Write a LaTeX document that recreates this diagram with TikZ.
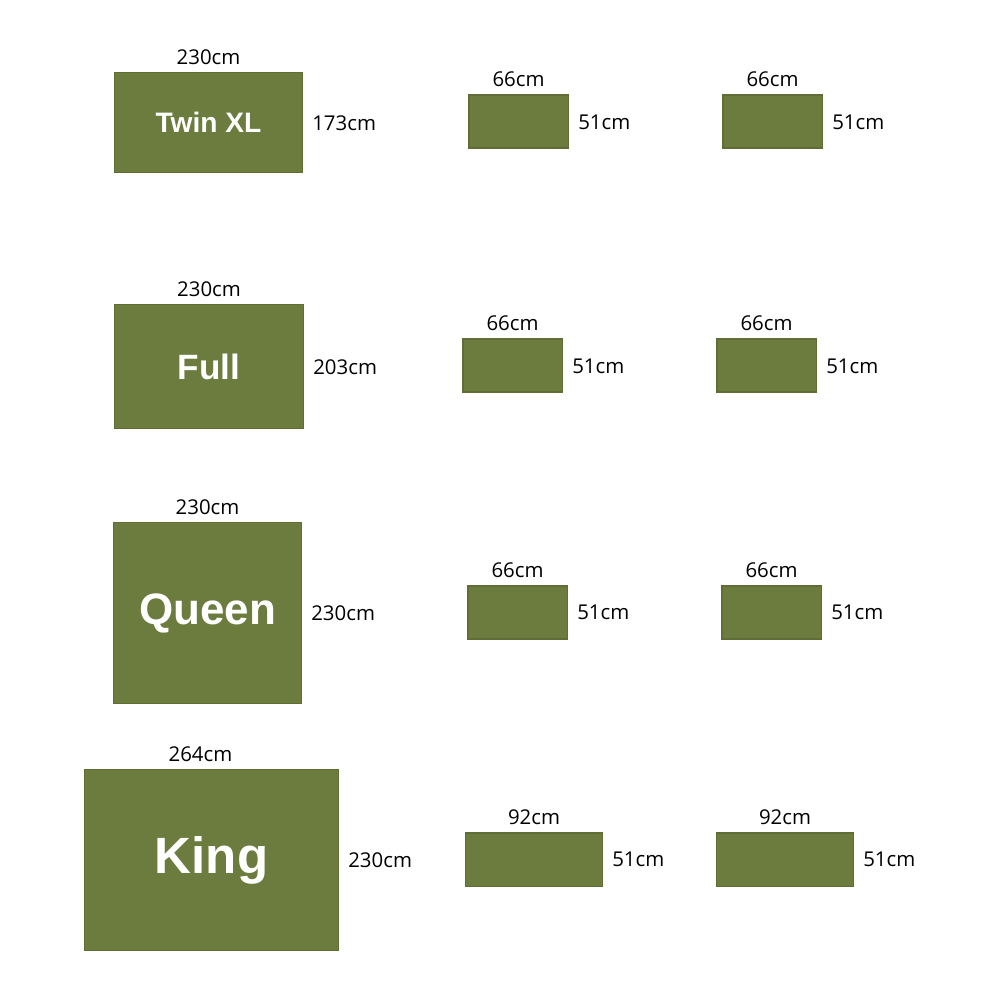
\documentclass[tikz,border=0pt]{standalone}
\usepackage{fontspec}
\setmainfont{Open Sans}
\newfontfamily\sizefont{Liberation Sans}
\usetikzlibrary{
  positioning,
}
\definecolor{rugGreen}{RGB}{108,124,62}
\definecolor{rugEdge}{RGB}{96,110,54}
\tikzset{
  rug/.style={draw=rugEdge, line width=0.3pt, fill=rugGreen, text=white, inner sep=0pt},
  dim/.style={inner sep=0pt, font=\fontsize{5.8}{7}\selectfont},
}

\begin{document}
\begin{tikzpicture}[x=0.01cm, y=-0.01cm]
      \fill [white] (0,0) rectangle (1000,1000);
      % Twin XL
      \node [rug, minimum width=1.87cm, minimum height=0.99cm, font=\sizefont\bfseries\fontsize{8}{9}\selectfont] (twin) at (208.5,122.5) {Twin XL};
      \node [rug, minimum width=0.99cm, minimum height=0.53cm] (twinA) at (518.5,121.5) {};
      \node [rug, minimum width=0.99cm, minimum height=0.53cm] (twinB) at (772.5,121.5) {};
      \node [dim, above=0.7mm of twin] {230cm};
      \node [dim, right=0.9mm of twin, yshift=-0.1mm] {173cm};
      \node [dim, above=0.7mm of twinA] {66cm};
      \node [dim, right=0.9mm of twinA, yshift=-0.1mm] {51cm};
      \node [dim, above=0.7mm of twinB] {66cm};
      \node [dim, right=0.9mm of twinB, yshift=-0.1mm] {51cm};
      % Full
      \node [rug, minimum width=1.88cm, minimum height=1.23cm, font=\sizefont\bfseries\fontsize{10}{12}\selectfont] (full) at (209,366.5) {Full};
      \node [rug, minimum width=0.99cm, minimum height=0.53cm] (fullA) at (512.5,365.5) {};
      \node [rug, minimum width=0.99cm, minimum height=0.53cm] (fullB) at (766.5,365.5) {};
      \node [dim, above=0.7mm of full] {230cm};
      \node [dim, right=0.9mm of full, yshift=-0.1mm] {203cm};
      \node [dim, above=0.7mm of fullA] {66cm};
      \node [dim, right=0.9mm of fullA, yshift=-0.1mm] {51cm};
      \node [dim, above=0.7mm of fullB] {66cm};
      \node [dim, right=0.9mm of fullB, yshift=-0.1mm] {51cm};
      % Queen
      \node [rug, minimum width=1.87cm, minimum height=1.80cm, font=\sizefont\bfseries\fontsize{12.5}{14}\selectfont] (queen) at (207.5,613) {Queen};
      \node [rug, minimum width=0.99cm, minimum height=0.53cm] (queenA) at (517.5,612.5) {};
      \node [rug, minimum width=0.99cm, minimum height=0.53cm] (queenB) at (771.5,612.5) {};
      \node [dim, above=0.7mm of queen] {230cm};
      \node [dim, right=0.9mm of queen] {230cm};
      \node [dim, above=0.7mm of queenA] {66cm};
      \node [dim, right=0.9mm of queenA] {51cm};
      \node [dim, above=0.7mm of queenB] {66cm};
      \node [dim, right=0.9mm of queenB] {51cm};
      % King
      \node [rug, minimum width=2.53cm, minimum height=1.80cm, font=\sizefont\bfseries\fontsize{14.5}{17}\selectfont] (king) at (211.5,860) {King};
      \node [rug, minimum width=1.36cm, minimum height=0.53cm] (kingA) at (534,859.5) {};
      \node [rug, minimum width=1.36cm, minimum height=0.53cm] (kingB) at (785,859.5) {};
      \node [dim, above=0.7mm of king, xshift=-1.1mm] {264cm};
      \node [dim, right=0.9mm of king] {230cm};
      \node [dim, above=0.7mm of kingA] {92cm};
      \node [dim, right=0.9mm of kingA] {51cm};
      \node [dim, above=0.7mm of kingB] {92cm};
      \node [dim, right=0.9mm of kingB] {51cm};
    \end{tikzpicture}
\end{document}
